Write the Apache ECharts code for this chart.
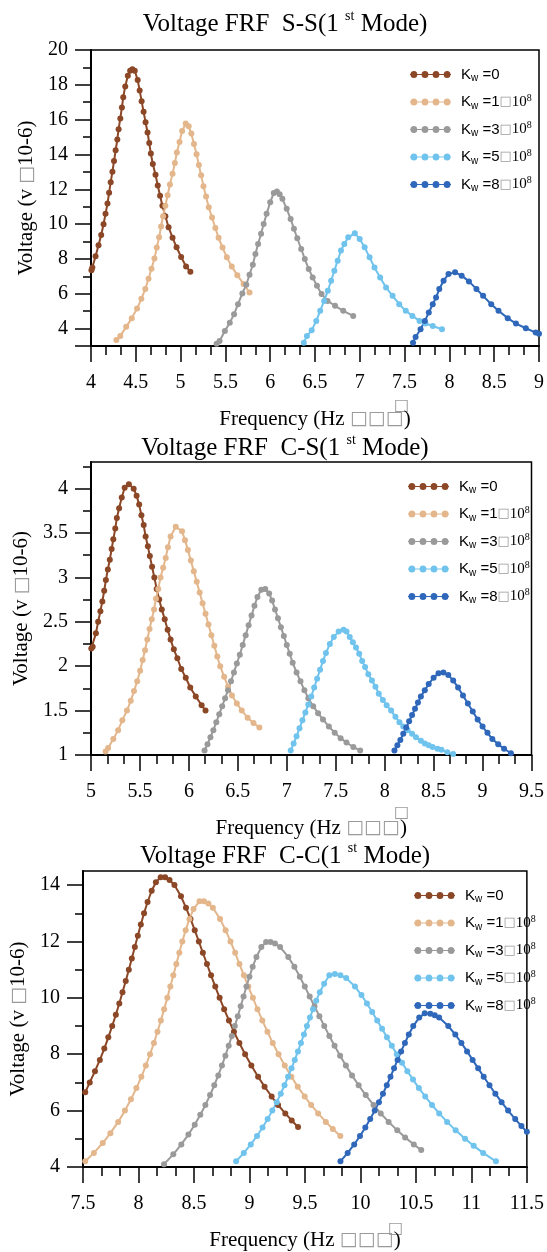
<!DOCTYPE html>
<html><head><meta charset="utf-8">
<script src="https://cdn.jsdelivr.net/npm/echarts@6/dist/echarts.min.js"></script>
<style>html,body{margin:0;padding:0;background:#fff}#c{width:547px;height:1252px}</style>
</head><body><div id="c"></div>
<script>
// ---------- DATA ----------
const KW_LABELS = ['0', '1', '3', '5', '8'];
const LEGEND_NAMES = ['Kw=0', 'Kw=1x10^8', 'Kw=3x10^8', 'Kw=5x10^8', 'Kw=8x10^8'];
const PANEL_TITLES = ['S-S', 'C-S', 'C-C'];

// S-S
const SS_X_RANGE = [4, 9];
const SS_Y_RANGE = [3, 20];
const SS_Y_LABELS = [4, 6, 8, 10, 12, 14, 16, 18, 20];
const SS_Y_MAJOR_TICKS = [3, 4, 6, 8, 10, 12, 14, 16, 18, 20];
const SS_Y_MINOR = [5, 7, 9, 11, 13, 15, 17, 19];
const SS_KW0 = [[4.005,7.35],[4.015,7.51],[4.051,8.15],[4.084,8.78],[4.114,9.38],[4.140,9.99],[4.162,10.59],[4.184,11.18],[4.202,11.80],[4.220,12.41],[4.239,13.01],[4.257,13.62],[4.275,14.24],[4.294,14.86],[4.308,15.45],[4.327,16.07],[4.345,16.70],[4.360,17.29],[4.382,17.91],[4.411,18.52],[4.437,18.81],[4.462,18.89],[4.488,18.81],[4.521,18.27],[4.543,17.68],[4.565,17.06],[4.587,16.45],[4.609,15.85],[4.631,15.26],[4.650,14.66],[4.668,14.05],[4.690,13.45],[4.720,12.84],[4.745,12.22],[4.771,11.63],[4.797,11.05],[4.830,10.45],[4.866,9.82],[4.910,9.22],[4.955,8.67],[5.006,8.11],[5.061,7.57],[5.109,7.27]];
const SS_KW1 = [[4.283,3.35],[4.327,3.58],[4.393,4.10],[4.455,4.60],[4.514,5.15],[4.562,5.71],[4.606,6.27],[4.642,6.86],[4.675,7.44],[4.708,8.03],[4.734,8.65],[4.760,9.24],[4.782,9.86],[4.804,10.45],[4.830,11.05],[4.855,11.66],[4.881,12.28],[4.910,12.89],[4.936,13.51],[4.958,14.11],[4.988,14.72],[5.017,15.35],[5.057,15.78],[5.090,15.62],[5.120,15.20],[5.149,14.60],[5.178,14.01],[5.204,13.39],[5.229,12.80],[5.255,12.18],[5.284,11.59],[5.314,10.97],[5.351,10.38],[5.388,9.78],[5.424,9.21],[5.468,8.65],[5.516,8.09],[5.571,7.56],[5.633,7.07],[5.703,6.56],[5.769,6.07]];
const SS_KW3 = [[5.402,3.13],[5.435,3.29],[5.494,3.86],[5.549,4.34],[5.597,4.83],[5.641,5.40],[5.689,6.02],[5.733,6.52],[5.769,7.09],[5.806,7.67],[5.835,8.28],[5.865,8.86],[5.898,9.44],[5.927,10.01],[5.960,10.59],[6.000,11.26],[6.040,11.78],[6.075,11.88],[6.105,11.72],[6.136,11.45],[6.184,10.88],[6.228,10.30],[6.265,9.73],[6.302,9.19],[6.346,8.57],[6.386,8.00],[6.430,7.42],[6.474,6.94],[6.522,6.46],[6.573,5.98],[6.640,5.59],[6.724,5.31],[6.815,5.02],[6.926,4.73]];
const SS_KW5 = [[6.375,3.19],[6.410,3.58],[6.463,3.90],[6.514,4.44],[6.558,5.02],[6.602,5.59],[6.643,6.17],[6.680,6.75],[6.716,7.32],[6.753,7.90],[6.790,8.48],[6.827,8.86],[6.871,9.24],[6.944,9.47],[6.999,9.15],[7.054,8.67],[7.109,8.09],[7.164,7.51],[7.227,6.94],[7.293,6.36],[7.366,5.88],[7.440,5.40],[7.513,5.02],[7.587,4.73],[7.667,4.44],[7.733,4.29],[7.814,4.15],[7.917,3.96]];
const SS_KW8 = [[7.594,3.19],[7.623,3.52],[7.678,3.96],[7.726,4.44],[7.770,4.92],[7.814,5.40],[7.851,5.78],[7.887,6.27],[7.935,6.75],[7.990,7.13],[8.063,7.23],[8.137,7.04],[8.218,6.71],[8.302,6.27],[8.376,5.88],[8.467,5.40],[8.548,5.02],[8.651,4.60],[8.743,4.29],[8.853,4.02],[8.963,3.77],[9.0,3.70]];

// C-S
const CS_X_RANGE = [5, 9.5];
const CS_Y_RANGE = [1, 4.3];
const CS_Y_LABELS = [1, 1.5, 2, 2.5, 3, 3.5, 4];
const CS_Y_MAJOR_TICKS = [1, 1.5, 2, 2.5, 3, 3.5, 4];
const CS_Y_MINOR = [1.25, 1.75, 2.25, 2.75, 3.25, 3.75, 4.25];
const CS_KW0 = [[5.003,2.20],[5.017,2.22],[5.050,2.37],[5.073,2.50],[5.096,2.62],[5.116,2.73],[5.135,2.85],[5.152,2.97],[5.172,3.09],[5.192,3.20],[5.211,3.32],[5.228,3.43],[5.248,3.55],[5.264,3.67],[5.287,3.78],[5.314,3.90],[5.344,4.01],[5.387,4.05],[5.436,4.00],[5.466,3.92],[5.492,3.82],[5.515,3.70],[5.538,3.59],[5.558,3.46],[5.581,3.35],[5.601,3.24],[5.624,3.12],[5.647,3.00],[5.671,2.87],[5.697,2.75],[5.723,2.64],[5.753,2.53],[5.783,2.41],[5.813,2.30],[5.846,2.19],[5.882,2.09],[5.922,1.97],[5.968,1.87],[6.014,1.76],[6.070,1.66],[6.130,1.56],[6.170,1.50]];
const CS_KW1 = [[5.149,1.04],[5.175,1.08],[5.228,1.18],[5.277,1.28],[5.320,1.39],[5.367,1.50],[5.406,1.61],[5.439,1.72],[5.472,1.83],[5.502,1.95],[5.528,2.07],[5.552,2.18],[5.575,2.30],[5.598,2.42],[5.621,2.53],[5.644,2.64],[5.664,2.76],[5.687,2.87],[5.710,3.00],[5.737,3.11],[5.763,3.22],[5.786,3.34],[5.813,3.46],[5.866,3.57],[5.93,3.52],[5.96,3.42],[5.99,3.31],[6.02,3.19],[6.05,3.07],[6.08,2.95],[6.11,2.83],[6.14,2.71],[6.17,2.59],[6.20,2.47],[6.23,2.35],[6.26,2.23],[6.29,2.11],[6.32,2.00],[6.36,1.88],[6.40,1.77],[6.44,1.67],[6.49,1.58],[6.54,1.50],[6.60,1.42],[6.66,1.36],[6.72,1.31]];
const CS_KW3 = [[6.16,1.05],[6.19,1.12],[6.22,1.20],[6.25,1.28],[6.28,1.37],[6.31,1.46],[6.34,1.55],[6.37,1.64],[6.40,1.73],[6.43,1.83],[6.46,1.93],[6.49,2.03],[6.52,2.13],[6.55,2.24],[6.58,2.35],[6.61,2.46],[6.64,2.57],[6.67,2.68],[6.70,2.78],[6.74,2.86],[6.78,2.87],[6.82,2.82],[6.85,2.74],[6.88,2.64],[6.91,2.54],[6.94,2.44],[6.97,2.34],[7.00,2.24],[7.03,2.14],[7.06,2.04],[7.10,1.93],[7.14,1.83],[7.18,1.73],[7.22,1.64],[7.27,1.55],[7.32,1.47],[7.37,1.40],[7.43,1.32],[7.49,1.25],[7.55,1.19],[7.61,1.14],[7.68,1.09],[7.75,1.05]];
const CS_KW5 = [[7.04,1.05],[7.07,1.13],[7.10,1.21],[7.13,1.30],[7.16,1.39],[7.19,1.48],[7.22,1.57],[7.25,1.66],[7.28,1.76],[7.31,1.86],[7.34,1.96],[7.37,2.06],[7.40,2.15],[7.44,2.25],[7.48,2.33],[7.53,2.39],[7.58,2.41],[7.61,2.39],[7.643,2.33],[7.675,2.27],[7.707,2.21],[7.74,2.14],[7.77,2.06],[7.80,1.99],[7.833,1.91],[7.87,1.84],[7.906,1.77],[7.94,1.69],[7.982,1.62],[8.02,1.56],[8.066,1.50],[8.11,1.43],[8.151,1.37],[8.19,1.32],[8.235,1.28],[8.28,1.24],[8.32,1.20],[8.37,1.16],[8.41,1.13],[8.45,1.11],[8.49,1.09],[8.54,1.07],[8.58,1.06],[8.64,1.03],[8.70,1.01]];
const CS_KW8 = [[8.10,1.05],[8.13,1.11],[8.16,1.17],[8.19,1.24],[8.22,1.31],[8.25,1.38],[8.28,1.45],[8.31,1.52],[8.34,1.59],[8.37,1.66],[8.41,1.73],[8.45,1.80],[8.50,1.87],[8.55,1.92],[8.60,1.93],[8.65,1.90],[8.70,1.84],[8.75,1.76],[8.80,1.67],[8.85,1.58],[8.90,1.49],[8.95,1.40],[9.00,1.32],[9.05,1.25],[9.10,1.18],[9.16,1.12],[9.22,1.07],[9.29,1.02]];

// C-C
const CC_X_RANGE = [7.5, 11.5];
const CC_Y_RANGE = [4, 14.5];
const CC_Y_LABELS = [4, 6, 8, 10, 12, 14];
const CC_Y_MAJOR_TICKS = [4, 6, 8, 10, 12, 14];
const CC_Y_MINOR = [5, 7, 9, 11, 13];
const CC_KW0 = [[7.52,6.65],[7.561,7.0],[7.608,7.4],[7.652,7.8],[7.692,8.2],[7.728,8.6],[7.763,9.0],[7.796,9.4],[7.827,9.8],[7.856,10.2],[7.885,10.6],[7.913,11.0],[7.940,11.4],[7.967,11.8],[7.994,12.2],[8.021,12.6],[8.050,13.0],[8.082,13.4],[8.119,13.8],[8.157,14.1],[8.20,14.28],[8.24,14.28],[8.28,14.18],[8.324,14.0],[8.383,13.6],[8.428,13.2],[8.469,12.8],[8.507,12.4],[8.544,12.0],[8.58,11.6],[8.617,11.2],[8.654,10.8],[8.692,10.4],[8.731,10.0],[8.772,9.6],[8.815,9.2],[8.86,8.8],[8.909,8.4],[8.961,8.0],[9.017,7.6],[9.078,7.2],[9.136,6.85],[9.20,6.5],[9.258,6.2],[9.323,5.9],[9.381,5.65],[9.438,5.42]];
const CC_KW1 = [[7.52,4.2],[7.598,4.5],[7.678,4.85],[7.747,5.2],[7.817,5.6],[7.878,6.0],[7.932,6.4],[7.981,6.8],[8.026,7.2],[8.066,7.6],[8.104,8.0],[8.139,8.4],[8.171,8.8],[8.202,9.2],[8.231,9.6],[8.26,10.0],[8.287,10.4],[8.314,10.8],[8.341,11.2],[8.368,11.6],[8.395,12.0],[8.425,12.4],[8.459,12.8],[8.496,13.15],[8.55,13.43],[8.59,13.43],[8.63,13.35],[8.67,13.2],[8.735,12.8],[8.785,12.4],[8.829,12.0],[8.871,11.6],[8.91,11.2],[8.95,10.8],[8.99,10.4],[9.031,10.0],[9.072,9.6],[9.116,9.2],[9.162,8.8],[9.21,8.4],[9.262,8.0],[9.318,7.6],[9.378,7.2],[9.435,6.85],[9.498,6.5],[9.556,6.2],[9.619,5.9],[9.688,5.6],[9.751,5.35],[9.819,5.1]];
const CC_KW3 = [[8.23,4.1],[8.314,4.45],[8.386,4.8],[8.45,5.15],[8.507,5.5],[8.557,5.85],[8.603,6.2],[8.645,6.55],[8.683,6.9],[8.719,7.25],[8.752,7.6],[8.783,7.95],[8.813,8.3],[8.841,8.65],[8.868,9.0],[8.895,9.35],[8.921,9.7],[8.947,10.05],[8.973,10.4],[9.0,10.75],[9.029,11.1],[9.063,11.45],[9.107,11.8],[9.15,11.98],[9.19,11.98],[9.23,11.93],[9.276,11.8],[9.35,11.45],[9.405,11.1],[9.454,10.75],[9.499,10.4],[9.543,10.05],[9.586,9.7],[9.63,9.35],[9.674,9.0],[9.72,8.65],[9.767,8.3],[9.817,7.95],[9.869,7.6],[9.924,7.25],[9.984,6.9],[10.048,6.55],[10.118,6.2],[10.183,5.9],[10.254,5.6],[10.332,5.3],[10.403,5.05],[10.481,4.8],[10.548,4.6]];
const CC_KW5 = [[8.88,4.2],[8.949,4.5],[9.012,4.8],[9.068,5.1],[9.118,5.4],[9.164,5.7],[9.206,6.0],[9.246,6.3],[9.282,6.6],[9.316,6.9],[9.348,7.2],[9.379,7.5],[9.408,7.8],[9.437,8.1],[9.464,8.4],[9.491,8.7],[9.518,9.0],[9.545,9.3],[9.573,9.6],[9.602,9.9],[9.634,10.2],[9.673,10.5],[9.72,10.8],[9.77,10.85],[9.82,10.8],[9.872,10.7],[9.951,10.4],[10.009,10.1],[10.059,9.8],[10.106,9.5],[10.151,9.2],[10.195,8.9],[10.239,8.6],[10.283,8.3],[10.328,8.0],[10.375,7.7],[10.423,7.4],[10.474,7.1],[10.527,6.8],[10.584,6.5],[10.645,6.2],[10.71,5.9],[10.781,5.6],[10.858,5.3],[10.943,5.0],[11.021,4.75],[11.106,4.5],[11.221,4.2]];
const CC_KW8 = [[9.82,4.2],[9.885,4.5],[9.944,4.8],[9.996,5.1],[10.044,5.4],[10.088,5.7],[10.129,6.0],[10.167,6.3],[10.203,6.6],[10.238,6.9],[10.271,7.2],[10.303,7.5],[10.335,7.8],[10.367,8.1],[10.401,8.4],[10.436,8.7],[10.476,9.0],[10.53,9.3],[10.58,9.45],[10.63,9.44],[10.67,9.38],[10.709,9.3],[10.792,9.0],[10.855,8.7],[10.91,8.4],[10.961,8.1],[11.011,7.8],[11.061,7.5],[11.111,7.2],[11.163,6.9],[11.216,6.6],[11.272,6.3],[11.331,6.0],[11.395,5.7],[11.451,5.45],[11.5,5.25]];

// ---------- STYLE / LAYOUT ----------
const COLORS = ['#8B4726', '#E3B68C', '#9A9A9A', '#70C3EC', '#2F68BA'];
const SERIF = 'Liberation Serif';
const PANELS = [
  { name: PANEL_TITLES[0], xr: SS_X_RANGE, yr: SS_Y_RANGE, yl: SS_Y_LABELS, yt: SS_Y_MAJOR_TICKS, ym: SS_Y_MINOR,
    data: [SS_KW0, SS_KW1, SS_KW3, SS_KW5, SS_KW8],
    grid: { left: 91, top: 50, width: 453, height: 296 }, titleTop: 4, titleX: 280, legend: { left: 405, top: 62 }, box: [394, 398] },
  { name: PANEL_TITLES[1], xr: CS_X_RANGE, yr: CS_Y_RANGE, yl: CS_Y_LABELS, yt: CS_Y_MAJOR_TICKS, ym: CS_Y_MINOR,
    data: [CS_KW0, CS_KW1, CS_KW3, CS_KW5, CS_KW8],
    grid: { left: 91, top: 462, width: 453, height: 293 }, titleTop: 428, titleX: 280, legend: { left: 403, top: 474 }, box: [394, 805] },
  { name: PANEL_TITLES[2], xr: CC_X_RANGE, yr: CC_Y_RANGE, yl: CC_Y_LABELS, yt: CC_Y_MAJOR_TICKS, ym: CC_Y_MINOR,
    data: [CC_KW0, CC_KW1, CC_KW3, CC_KW5, CC_KW8],
    grid: { left: 83, top: 871, width: 456, height: 299 }, titleTop: 836, titleX: 280, legend: { left: 409, top: 883 }, box: [388, 1221] }
];

// legend icon: thin line with four dots (all sub-paths drawn clockwise so they fill solid)
const ICON = 'path://M0,3.9H41V5.1H0Z M0.5,4.5a3.4,3.4 0 1,1 6.8,0a3.4,3.4 0 1,1 -6.8,0Z M11.6,4.5a3.4,3.4 0 1,1 6.8,0a3.4,3.4 0 1,1 -6.8,0Z M22.6,4.5a3.4,3.4 0 1,1 6.8,0a3.4,3.4 0 1,1 -6.8,0Z M33.7,4.5a3.4,3.4 0 1,1 6.8,0a3.4,3.4 0 1,1 -6.8,0Z';

const option = { animation: false, backgroundColor: '#fff', title: [], grid: [], xAxis: [], yAxis: [], legend: [], series: [], graphic: [] };

const axisLineStyle = { color: '#000', width: 2 };
const nameRich = {
  a: { fontFamily: SERIF, fontSize: 21, color: '#000' },
  b: { fontFamily: 'DejaVu Sans', fontSize: 19, color: '#9a9a9a' }
};
PANELS.forEach((p, i) => {
  option.title.push({
    text: '{a|Voltage FRF  ' + p.name + '(1 }{s|st}{a| Mode)}',
    left: p.titleX, textAlign: 'center', top: p.titleTop,
    textStyle: { fontWeight: 'normal', rich: {
      a: { fontFamily: SERIF, fontSize: 25, fontWeight: 'normal', color: '#000', lineHeight: 30 },
      s: { fontFamily: SERIF, fontSize: 14, fontWeight: 'normal', color: '#000', lineHeight: 18, verticalAlign: 'top' }
    } }
  });
  option.grid.push(Object.assign({ show: true, borderColor: '#000', borderWidth: 1.5, backgroundColor: 'transparent' }, p.grid));
  option.xAxis.push({
    type: 'value', gridIndex: i, min: p.xr[0], max: p.xr[1], interval: 0.5,
    axisLine: { show: true, onZero: false, lineStyle: axisLineStyle },
    axisTick: { show: true, length: 16, lineStyle: { color: '#000', width: 1.5 } },
    minorTick: { show: true, splitNumber: 3, length: 9, lineStyle: { color: '#000', width: 1.5 } },
    splitLine: { show: false },
    axisLabel: { margin: 27, fontFamily: SERIF, fontSize: 20, color: '#000' },
    name: '{a|Frequency (Hz }{b|□□□}{a|)}', nameLocation: 'middle', nameGap: 63,
    nameTextStyle: { rich: nameRich }
  });
  option.yAxis.push({
    type: 'value', gridIndex: i, min: p.yr[0], max: p.yr[1], position: 'left',
    axisLine: { show: true, onZero: false, lineStyle: axisLineStyle },
    axisTick: { show: true, length: 16, customValues: p.yt, lineStyle: { color: '#000', width: 1.5 } },
    splitLine: { show: false },
    axisLabel: { margin: 23, fontFamily: SERIF, fontSize: 20, color: '#000', customValues: p.yl },
    name: '{a|Voltage (v }{b|□}{a|10-6)}', nameLocation: 'middle', nameGap: 50,
    nameTextStyle: { rich: nameRich }
  });
  option.yAxis.push({
    type: 'value', gridIndex: i, min: p.yr[0], max: p.yr[1], position: 'left', offset: 0,
    axisLine: { show: false },
    axisTick: { show: true, length: 8, customValues: p.ym, lineStyle: { color: '#000', width: 1.5 } },
    splitLine: { show: false },
    axisLabel: { show: false }
  });
  option.legend.push({
    orient: 'vertical', left: p.legend.left, top: p.legend.top,
    data: LEGEND_NAMES.slice(), icon: ICON, itemWidth: 41, itemHeight: 7, itemGap: 9.5,
    symbolKeepAspect: false, selectedMode: false,
    itemStyle: { borderWidth: 0 },
    formatter: function (name) {
      const c = KW_LABELS[LEGEND_NAMES.indexOf(name)];
      return c === '0' ? '{k|K}{w|w}{k| =0}' : '{k|K}{w|w}{k| =' + c + '}{b|□}{t|10}{p|8}';
    },
    textStyle: { padding: [0, 0, 0, 5], rich: {
      k: { fontFamily: 'Liberation Sans', fontSize: 15, color: '#000', lineHeight: 18 },
      w: { fontFamily: 'Liberation Sans', fontSize: 10, color: '#000', lineHeight: 12, verticalAlign: 'bottom' },
      b: { fontFamily: 'DejaVu Sans', fontSize: 13, color: '#9a9a9a', lineHeight: 18 },
      t: { fontFamily: SERIF, fontSize: 15, color: '#000', lineHeight: 18 },
      p: { fontFamily: SERIF, fontSize: 10, color: '#000', lineHeight: 12, verticalAlign: 'top' }
    } }
  });
  p.data.forEach((d, k) => {
    option.series.push({
      type: 'line', name: LEGEND_NAMES[k], xAxisIndex: i, yAxisIndex: i * 2, data: d,
      color: COLORS[k], symbol: 'circle', symbolSize: 6, showSymbol: true, showAllSymbol: true,
      lineStyle: { width: 2, color: COLORS[k] }, itemStyle: { color: COLORS[k], borderWidth: 0 },
      clip: true, z: 2
    });
  });
  option.graphic.push({
    type: 'text', left: p.box[0], top: p.box[1],
    style: { text: '□', font: '16px "DejaVu Sans"', fill: '#9a9a9a' }
  });
});

const chart = echarts.init(document.getElementById('c'), null, { renderer: 'canvas' });
chart.setOption(option);
</script>
</body></html>
